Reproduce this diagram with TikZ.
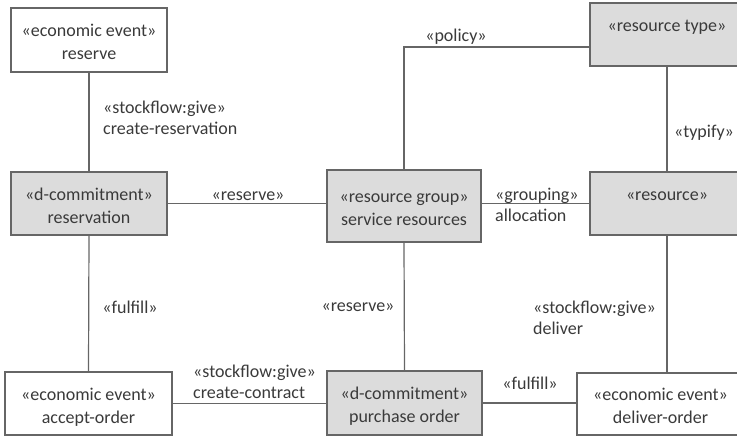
\documentclass[tikz,border=0pt]{standalone}
\usepackage{fontspec}
\setmainfont{Carlito}
% two centred lines, set a little below the middle of their box
\newcommand{\classtext}[2]{\raisebox{-3.5pt}[\height][\depth]{\begin{tabular}{@{}c@{}}#1\\#2\end{tabular}}}
\begin{document}
\begin{tikzpicture}[x=1pt,y=-1pt,
  every node/.style={text=txt},
  box/.style={draw=edge, line width=1.2pt, inner sep=0pt,
    font=\fontsize{18}{23}\selectfont},
  plainbox/.style={box, fill=white},
  greybox/.style={box, fill=boxfill},
  lbl/.style={inner sep=0pt, align=left, font=\fontsize{18}{21}\selectfont},
  link/.style={draw=edge, line width=1.2pt}
]
\definecolor{edge}{HTML}{666666}
\definecolor{boxfill}{HTML}{DCDCDC}
\definecolor{txt}{HTML}{3A3A3A}
\useasboundingbox (0,0) rectangle (737,436);

% classes
\node[plainbox, minimum width=156pt, minimum height=64pt] (evreserve) at (89,40)
  {\classtext{«economic event»}{reserve}};
\node[greybox, minimum width=156pt, minimum height=63pt] (reservation) at (89,203.5)
  {\classtext{«d-commitment»}{reservation}};
\node[greybox, minimum width=154pt, minimum height=72pt] (resgroup) at (404,206)
  {\classtext{«resource group»}{service resources}};
\node[greybox, minimum width=154pt, minimum height=63pt] (restype) at (667,34.5)
  {\classtext{«resource type»}{\mbox{}}};
\node[greybox, minimum width=154pt, minimum height=63pt] (resource) at (667,203.5)
  {\classtext{«resource»}{\mbox{}}};
\node[plainbox, minimum width=167pt, minimum height=63pt] (accept) at (88.5,403.5)
  {\classtext{«economic event»}{accept-order}};
\node[greybox, minimum width=155pt, minimum height=64pt] (purchase) at (404.5,403)
  {\classtext{«d-commitment»}{purchase order}};
\node[plainbox, minimum width=167pt, minimum height=62pt] (deliver) at (660.5,404)
  {\classtext{«economic event»}{deliver-order}};

% associations
\draw[link] (evreserve.south) -- (reservation.north);
\draw[link] (reservation.east) -- (reservation.east -| resgroup.west);
\draw[link] (resgroup.north) |- ([yshift=-12.5pt]restype.west);
\draw[link] (restype.south) -- (resource.north);
\draw[link] (resource.west -| resgroup.east) -- (resource.west);
\draw[link] (reservation.south) -- (accept.north);
\draw[link] (resgroup.south) -- (purchase.north);
\draw[link] (resource.south) -- (resource.south |- deliver.north);
\draw[link] (accept.east) -- (accept.east -| purchase.west);
\draw[link] (purchase.east) -- (purchase.east -| deliver.west);

% association labels
\node[lbl, anchor=west] (lcreateres) at (103,118) {«stockflow:give»\\create-reservation};
\node[lbl] (lreservetop) at (248,196) {«reserve»};
\node[lbl] (lpolicy) at (456,37) {«policy»};
\node[lbl] (ltypify) at (704,133) {«typify»};
\node[lbl, anchor=west] (lgrouping) at (495,205) {«grouping»\\allocation};
\node[lbl] (lfulfillleft) at (130,307) {«fulfill»};
\node[lbl] (lreservemid) at (358,307) {«reserve»};
\node[lbl, anchor=west] (ldeliver) at (533,317.5) {«stockflow:give»\\deliver};
\node[lbl, anchor=west] (lcontract) at (193,382) {«stockflow:give»\\create-contract};
\node[lbl] (lfulfillbottom) at (530,383) {«fulfill»};
\end{tikzpicture}
\end{document}
